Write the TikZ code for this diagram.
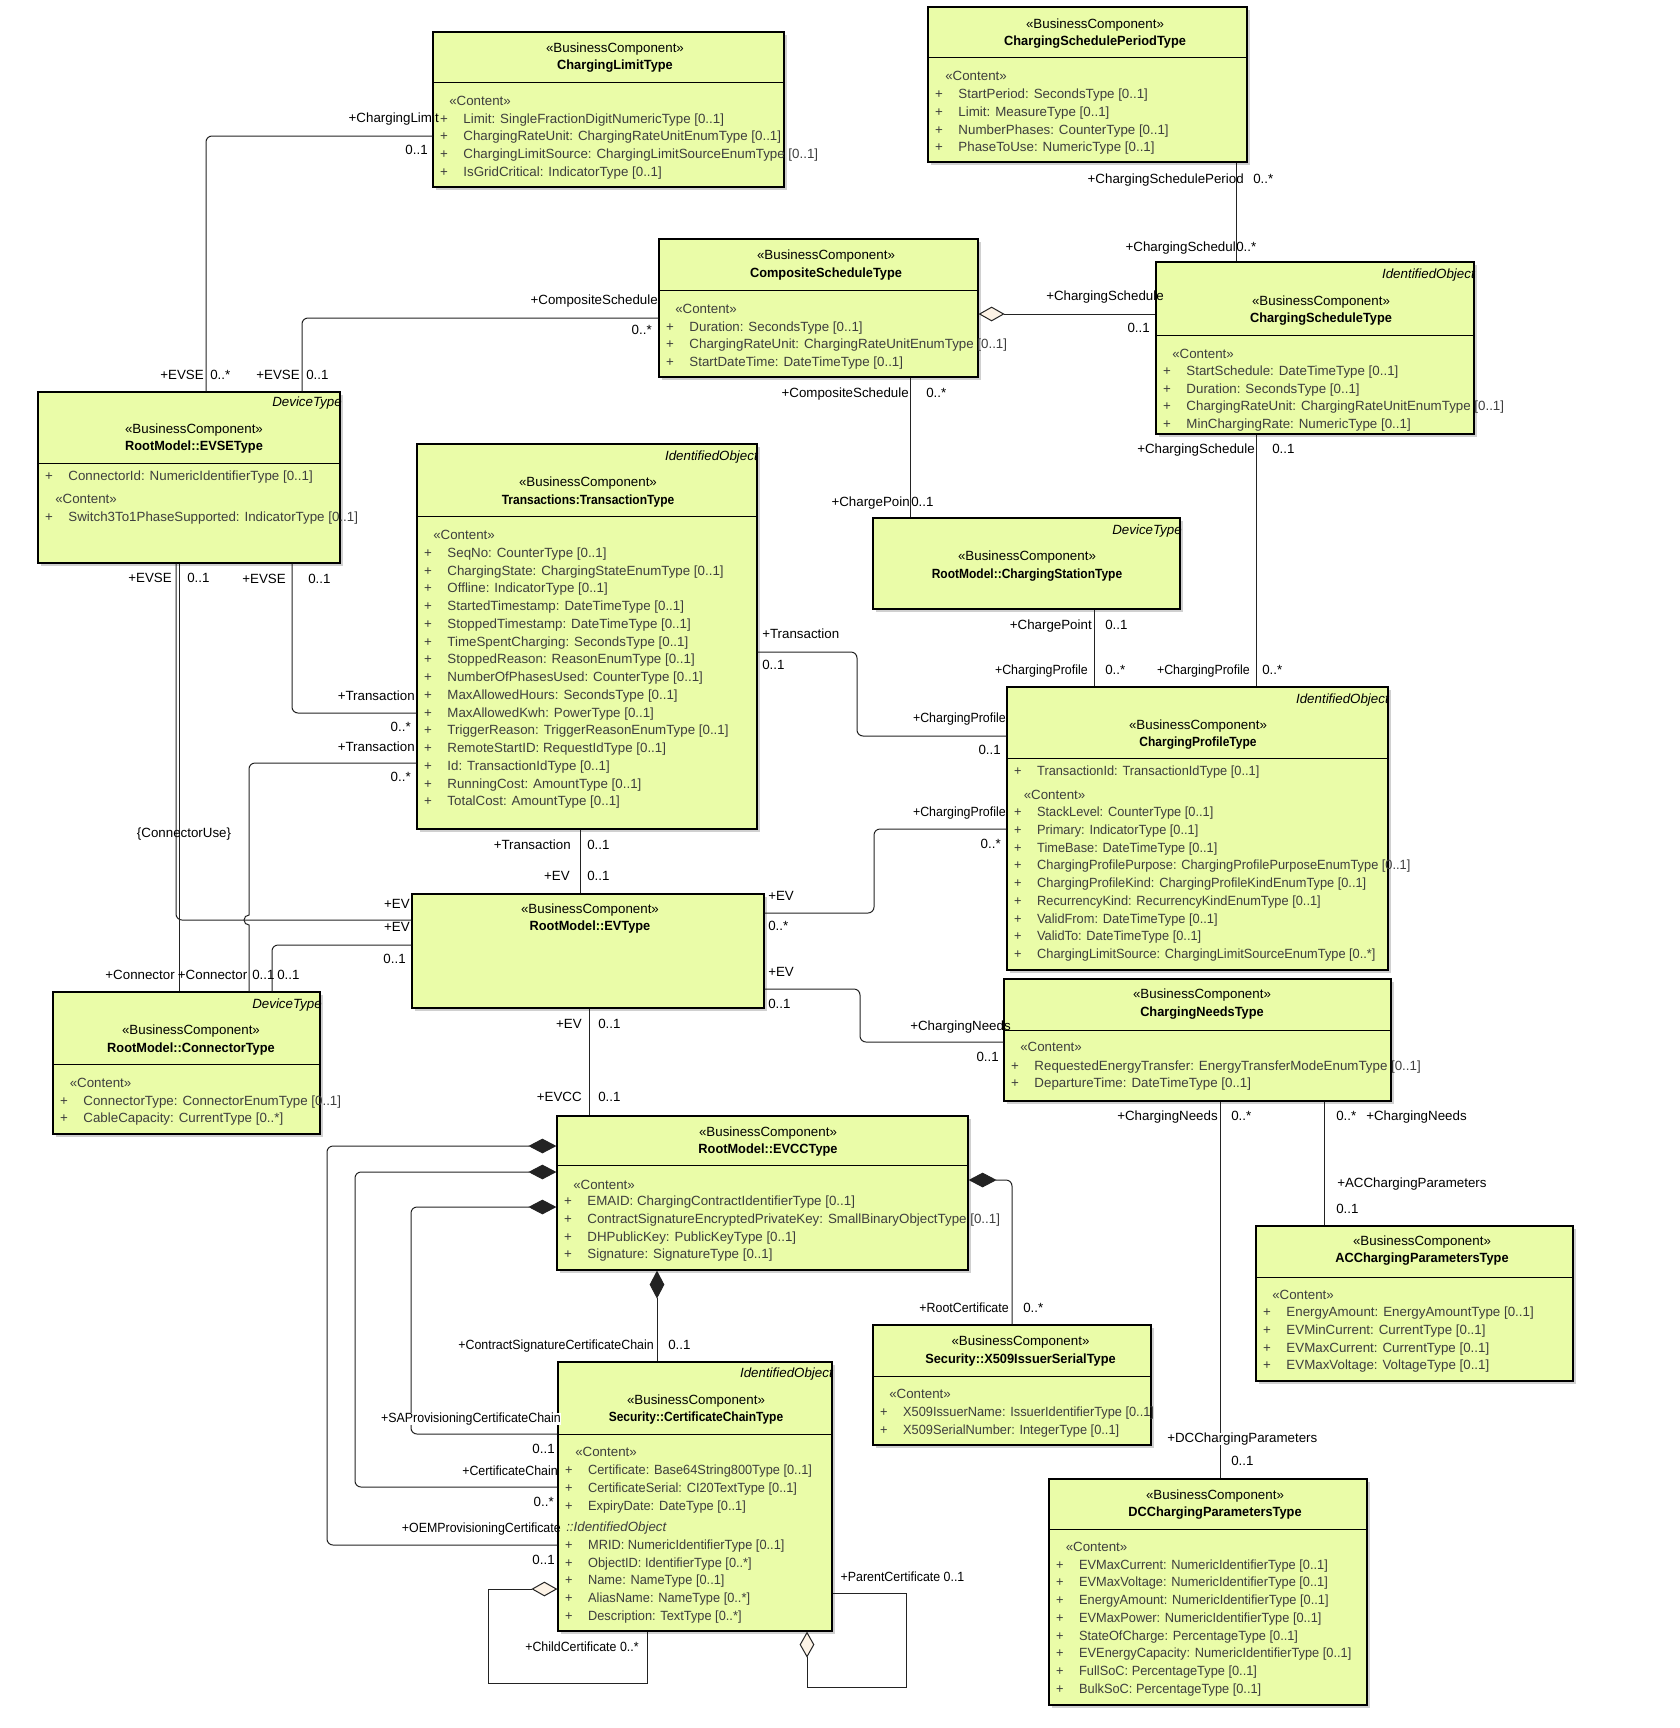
\documentclass[tikz,border=0pt]{standalone}
\usepackage{fontspec}
\setmainfont{Liberation Sans}
\newfontfamily\titlefont[FakeStretch=0.96]{Liberation Sans}
\newfontfamily\narrowfont[FakeStretch=0.9]{Liberation Sans}
\newfontfamily\rowfont[FakeStretch=0.96]{Liberation Sans}
\newfontfamily\condfont[FakeStretch=0.93]{Liberation Sans}
\usepackage{tikz}
\usetikzlibrary{
  arrows.meta,
  fit,
  shadows
}
\definecolor{ClassFill}{RGB}{234,252,168}
\definecolor{AttrGray}{RGB}{62,62,62}
\definecolor{LineGray}{RGB}{35,35,35}
\definecolor{DiamondCream}{RGB}{253,243,230}
\definecolor{ShadowGray}{RGB}{208,208,208}
\tikzset{
  classbox/.style={draw=black,line width=0.9pt,fill=ClassFill,inner sep=0pt,drop shadow={shadow xshift=2.2pt,shadow yshift=-2.2pt,fill=ShadowGray,opacity=1}},
  sepline/.style={draw=black,line width=0.75pt},
  stereo/.style={anchor=base,inner sep=0pt},
  ctitle/.style={anchor=base,inner sep=0pt,font=\titlefont\bfseries},
  ctitlen/.style={anchor=base,inner sep=0pt,font=\narrowfont\bfseries},
  kind/.style={anchor=base east,inner sep=0pt,font=\itshape},
  attr/.style={anchor=base west,inner sep=0pt,text=AttrGray},
  attrn/.style={attr,font=\rowfont},
  assoc/.style={draw=LineGray,line width=0.75pt,rounded corners=4.5pt},
  compos/.style={assoc,{Diamond[length=21pt,width=11pt]}-},
  aggr/.style={assoc,{Diamond[fill=DiamondCream,length=19.5pt,width=11pt]}-},
  re/.style={anchor=base east,inner sep=0pt},
  rw/.style={anchor=base west,inner sep=0pt},
  cond/.style={font=\condfont}
}
\newcommand{\classhead}[5][ctitle]{%
  \node[stereo] (#2-st) at (#3,#4) {«BusinessComponent»};
  \node[#1] (#2-nm) at (#3,#4+17.4) {#5};}
\newcommand{\classrows}[5][attr]{%
  \foreach \attrtext [count=\i] in {#5}
    \node[#1] (#2-a\i) at (#3+6.8,#4+17.75*\i-17.75) {+\hspace{11.7pt}\attrtext};}

\begin{document}
\begin{tikzpicture}[x=0.75pt,y=-0.75pt]
\useasboundingbox (0,0) rectangle (1679,1728);
% class boxes
\node[classbox,fit={(433,32) (784,187)}] (climit) {};
\node[classbox,fit={(928,7) (1247,162)}] (cspt) {};
\node[classbox,fit={(659,239) (978,377)}] (comp) {};
\node[classbox,fit={(1156,262) (1474,434)}] (csched) {};
\node[classbox,fit={(38,392) (340,563)}] (evse) {};
\node[classbox,fit={(417,444) (757,829)}] (trans) {};
\node[classbox,fit={(873,518) (1180,609)}] (cstation) {};
\node[classbox,fit={(1007,687) (1388,970)}] (cprof) {};
\node[classbox,fit={(412,894) (764,1008)}] (ev) {};
\node[classbox,fit={(1004,979) (1391,1101)}] (cneeds) {};
\node[classbox,fit={(53,992) (320,1134)}] (conn) {};
\node[classbox,fit={(557,1116) (968,1270)}] (evcc) {};
\node[classbox,fit={(873,1325) (1151,1445)}] (x509) {};
\node[classbox,fit={(1256,1226) (1573,1381)}] (acp) {};
\node[classbox,fit={(1049,1479) (1367,1705)}] (dcp) {};
\node[classbox,fit={(558,1362) (832,1631)}] (cchain) {};
\foreach \b/\y in {climit/82,cspt/57,comp/290,csched/335,evse/463,trans/516,cprof/758,cneeds/1030,conn/1064,evcc/1165,x509/1376,acp/1277,dcp/1529,cchain/1434}
  \draw[sepline] (\b.west |- 0,\y) -- (\b.east |- 0,\y);

\classhead{climit}{615}{52.3}{ChargingLimitType}
\node[attr] (climit-ct) at (449,105.7) {«Content»};
\classrows{climit}{433}{123}{{Limit: SingleFractionDigitNumericType [0..1]},{ChargingRateUnit: ChargingRateUnitEnumType [0..1]},{ChargingLimitSource: ChargingLimitSourceEnumType [0..1]},{IsGridCritical: IndicatorType [0..1]}}

\classhead{cspt}{1095}{28}{ChargingSchedulePeriodType}
\node[attr] (cspt-ct) at (945,80.7) {«Content»};
\classrows{cspt}{928}{98.5}{{StartPeriod: SecondsType [0..1]},{Limit: MeasureType [0..1]},{NumberPhases: CounterType [0..1]},{PhaseToUse: NumericType [0..1]}}

\classhead{comp}{826}{259.7}{CompositeScheduleType}
\node[attr] (comp-ct) at (675,313) {«Content»};
\classrows{comp}{659}{331}{{Duration: SecondsType [0..1]},{ChargingRateUnit: ChargingRateUnitEnumType [0..1]},{StartDateTime: DateTimeType [0..1]}}

\node[kind] (csched-k) at (1475,278.3) {IdentifiedObject};
\classhead{csched}{1321}{305}{ChargingScheduleType}
\node[attr] (csched-ct) at (1172,358) {«Content»};
\classrows{csched}{1156}{375.3}{{StartSchedule: DateTimeType [0..1]},{Duration: SecondsType [0..1]},{ChargingRateUnit: ChargingRateUnitEnumType [0..1]},{MinChargingRate: NumericType [0..1]}}

\node[kind] (evse-k) at (342,406.7) {DeviceType};
\classhead{evse}{194}{433}{RootModel::EVSEType}
\classrows{evse-id}{38}{480.7}{{ConnectorId: NumericIdentifierType [0..1]}}
\node[attr] (evse-ct) at (55,503.3) {«Content»};
\classrows{evse}{38}{521.3}{{Switch3To1PhaseSupported: IndicatorType [0..1]}}

\node[kind] (trans-k) at (758,460) {IdentifiedObject};
\classhead[ctitlen]{trans}{588}{486.7}{Transactions:TransactionType}
\node[attr] (trans-ct) at (433,539.7) {«Content»};
\classrows{trans}{417}{557.3}{{SeqNo: CounterType [0..1]},{ChargingState: ChargingStateEnumType [0..1]},{Offline: IndicatorType [0..1]},{StartedTimestamp: DateTimeType [0..1]},{StoppedTimestamp: DateTimeType [0..1]},{TimeSpentCharging: SecondsType [0..1]},{StoppedReason: ReasonEnumType [0..1]},{NumberOfPhasesUsed: CounterType [0..1]},{MaxAllowedHours: SecondsType [0..1]},{MaxAllowedKwh: PowerType [0..1]},{TriggerReason: TriggerReasonEnumType [0..1]},{RemoteStartID: RequestIdType [0..1]},{Id: TransactionIdType [0..1]},{RunningCost: AmountType [0..1]},{TotalCost: AmountType [0..1]}}

\node[kind] (cstation-k) at (1182,534.7) {DeviceType};
\classhead[ctitlen]{cstation}{1027}{560.7}{RootModel::ChargingStationType}

\node[kind] (cprof-k) at (1389,703) {IdentifiedObject};
\classhead[ctitlen]{cprof}{1198}{729}{ChargingProfileType}
\classrows[attrn]{cprof-id}{1007}{775.3}{{TransactionId: TransactionIdType [0..1]}}
\node[attr] (cprof-ct) at (1023.5,799.7) {«Content»};
\classrows[attrn]{cprof}{1007}{816.7}{{StackLevel: CounterType [0..1]},{Primary: IndicatorType [0..1]},{TimeBase: DateTimeType [0..1]},{ChargingProfilePurpose: ChargingProfilePurposeEnumType [0..1]},{ChargingProfileKind: ChargingProfileKindEnumType [0..1]},{RecurrencyKind: RecurrencyKindEnumType [0..1]},{ValidFrom: DateTimeType [0..1]},{ValidTo: DateTimeType [0..1]},{ChargingLimitSource: ChargingLimitSourceEnumType [0..*]}}

\classhead{ev}{590}{913.3}{RootModel::EVType}

\classhead{cneeds}{1202}{998.7}{ChargingNeedsType}
\node[attr] (cneeds-ct) at (1020,1051.7) {«Content»};
\classrows{cneeds}{1004}{1070}{{RequestedEnergyTransfer: EnergyTransferModeEnumType [0..1]},{DepartureTime: DateTimeType [0..1]}}

\node[kind] (conn-k) at (322,1008.3) {DeviceType};
\classhead{conn}{191}{1034.7}{RootModel::ConnectorType}
\node[attr] (conn-ct) at (69.5,1087.3) {«Content»};
\classrows{conn}{53}{1105}{{ConnectorType: ConnectorEnumType [0..1]},{CableCapacity: CurrentType [0..*]}}

\classhead{evcc}{768}{1136.3}{RootModel::EVCCType}
\node[attr] (evcc-ct) at (573,1189) {«Content»};
\classrows{evcc}{557}{1205.7}{{EMAID: ChargingContractIdentifierType [0..1]},{ContractSignatureEncryptedPrivateKey: SmallBinaryObjectType [0..1]},{DHPublicKey: PublicKeyType [0..1]},{Signature: SignatureType [0..1]}}

\classhead{x509}{1020.5}{1345.7}{Security::X509IssuerSerialType}
\node[attr] (x509-ct) at (889,1398.3) {«Content»};
\classrows[attrn]{x509}{873}{1416.3}{{X509IssuerName: IssuerIdentifierType [0..1]},{X509SerialNumber: IntegerType [0..1]}}

\classhead{acp}{1422}{1245}{ACChargingParametersType}
\node[attr] (acp-ct) at (1272,1299.7) {«Content»};
\classrows{acp}{1256}{1316.7}{{EnergyAmount: EnergyAmountType [0..1]},{EVMinCurrent: CurrentType [0..1]},{EVMaxCurrent: CurrentType [0..1]},{EVMaxVoltage: VoltageType [0..1]}}

\classhead{dcp}{1215}{1499}{DCChargingParametersType}
\node[attr] (dcp-ct) at (1065.5,1551.3) {«Content»};
\classrows[attrn]{dcp}{1049}{1569}{{EVMaxCurrent: NumericIdentifierType [0..1]},{EVMaxVoltage: NumericIdentifierType [0..1]},{EnergyAmount: NumericIdentifierType [0..1]},{EVMaxPower: NumericIdentifierType [0..1]},{StateOfCharge: PercentageType [0..1]},{EVEnergyCapacity: NumericIdentifierType [0..1]},{FullSoC: PercentageType [0..1]},{BulkSoC: PercentageType [0..1]}}

\node[kind] (cchain-k) at (833,1377.3) {IdentifiedObject};
\classhead[ctitlen]{cchain}{696}{1404}{Security::CertificateChainType}
\node[attr] (cchain-ct) at (575,1456.7) {«Content»};
\classrows[attrn]{cchain}{558}{1474.7}{{Certificate: Base64String800Type [0..1]},{CertificateSerial: CI20TextType [0..1]},{ExpiryDate: DateType [0..1]}}
\node[attr,font=\itshape] (cchain-io) at (566,1531.7) {::IdentifiedObject};
\classrows[attrn]{cchain-io}{558}{1549.3}{{MRID: NumericIdentifierType [0..1]},{ObjectID: IdentifierType [0..*]},{Name: NameType [0..1]},{AliasName: NameType [0..*]},{Description: TextType [0..*]}}

% connectors
\draw[assoc] (climit.west |- 0,136) -| (evse.north -| 206,0);
\draw[assoc] (comp.west |- 0,318) -| (evse.north -| 302,0);
\draw[assoc] (comp.south -| 910,0) -- (cstation.north -| 910,0);
\draw[assoc] (cspt.south -| 1236,0) -- (csched.north -| 1236,0);
\draw[aggr] (comp.east |- 0,314) -- (csched.west |- 0,314);
\draw[assoc] (csched.south -| 1256,0) -- (cprof.north -| 1256,0);
\draw[assoc] (cstation.south -| 1094,0) -- (cprof.north -| 1094,0);
\draw[assoc] (trans.east |- 0,652) -| (857,700) |- (cprof.west |- 0,736);
\draw[assoc] (ev.east |- 0,913) -| (874,870) |- (cprof.west |- 0,829);
\draw[assoc] (ev.east |- 0,989) -| (860,1020) |- (cneeds.west |- 0,1042);
\draw[assoc] (trans.south -| 580,0) -- (ev.north -| 580,0);
\draw[assoc] (ev.south -| 589,0) -- (evcc.north -| 589,0);
\draw[assoc] (evse.south -| 292,0) |- (trans.west |- 0,713);
\draw[assoc] (evse.south -| 176,0) |- (ev.west |- 0,920);
\draw[assoc] (evse.south -| 179,0) -- (conn.north -| 179,0);
\draw[assoc] (trans.west |- 0,763) -| (249,880) [sharp corners] -- (249,915)
  arc[start angle=270,end angle=90,radius=5] -- (conn.north -| 249,0);
\draw[assoc] (ev.west |- 0,945) -| (conn.north -| 272,0);
\draw[compos] (evcc.east |- 0,1180) -| (x509.north -| 1012,0);
\draw[compos] (evcc.south -| 657,0) -- (cchain.north -| 657,0);
\draw[compos] (evcc.west |- 0,1146) -| (327,1400) |- (cchain.west |- 0,1545);
\draw[compos] (evcc.west |- 0,1172) -| (355,1400) |- (cchain.west |- 0,1487);
\draw[compos] (evcc.west |- 0,1207) -| (411,1400) |- (cchain.west |- 0,1434);
\draw[aggr,sharp corners] (cchain.west |- 0,1589) -| (488.5,1683) -| (cchain.south -| 647,0);
\draw[aggr,sharp corners] (cchain.south -| 807,0) |- (906,1687) |- (cchain.east |- 0,1593);
\draw[assoc] (cneeds.south -| 1220,0) -- (dcp.north -| 1220,0);
\draw[assoc] (cneeds.south -| 1324,0) -- (acp.north -| 1324,0);

% role names and multiplicities
\node[re] (r-cl1) at (439,122) {+ChargingLimit};
\node[re] (m-cl1) at (428,154) {0..1};
\node[re] (r-cl2) at (204,379) {+EVSE};
\node[rw] (m-cl2) at (210,379) {0..*};
\node[re] (r-cs1) at (658,304) {+CompositeSchedule};
\node[re] (m-cs1) at (652,334.5) {0..*};
\node[re] (r-cs2) at (300,379) {+EVSE};
\node[rw] (m-cs2) at (306,379) {0..1};
\node[re] (r-st1) at (909,397.3) {+CompositeSchedule};
\node[rw] (m-st1) at (926,397.3) {0..*};
\node[re] (r-st2) at (910,506.4) {+ChargePoin};
\node[rw] (m-st2) at (911,506.4) {0..1};
\node[re] (r-pe1) at (1244,183) {+ChargingSchedulePeriod};
\node[rw] (m-pe1) at (1253,183) {0..*};
\node[re] (r-pe2) at (1236,251.3) {+ChargingSchedul};
\node[rw] (m-pe2) at (1236,251.3) {0..*};
\node[re] (r-ag1) at (1164,300.4) {+ChargingSchedule};
\node[re] (m-ag1) at (1150,332) {0..1};
\node[re] (r-sp1) at (1255,453.5) {+ChargingSchedule};
\node[rw] (m-sp1) at (1272,453.5) {0..1};
\node[re,cond] (r-sp2) at (1250,674.5) {+ChargingProfile};
\node[rw] (m-sp2) at (1262,674.5) {0..*};
\node[re] (r-sn1) at (1092,629.7) {+ChargePoint};
\node[rw] (m-sn1) at (1105,629.7) {0..1};
\node[re,cond] (r-sn2) at (1088,674) {+ChargingProfile};
\node[rw] (m-sn2) at (1105,674) {0..*};
\node[rw] (r-tp1) at (762,638.6) {+Transaction};
\node[rw] (m-tp1) at (762,669.5) {0..1};
\node[re,cond] (r-tp2) at (1006,722.3) {+ChargingProfile};
\node[re] (m-tp2) at (1001,754) {0..1};
\node[rw] (r-ep1) at (768,900.3) {+EV};
\node[rw] (m-ep1) at (768,930.7) {0..*};
\node[re,cond] (r-ep2) at (1006,816) {+ChargingProfile};
\node[re] (m-ep2) at (1001,848) {0..*};
\node[rw] (r-en1) at (768,976.3) {+EV};
\node[rw] (m-en1) at (768,1008) {0..1};
\node[re] (r-en2) at (1011,1030.7) {+ChargingNeeds};
\node[re] (m-en2) at (999,1061.3) {0..1};
\node[re] (r-te1) at (571,849) {+Transaction};
\node[rw] (m-te1) at (587,849) {0..1};
\node[re] (r-te2) at (570,880.7) {+EV};
\node[rw] (m-te2) at (587,880.7) {0..1};
\node[re] (r-ec1) at (582,1028) {+EV};
\node[rw] (m-ec1) at (598,1028) {0..1};
\node[re] (r-ec2) at (582,1101.7) {+EVCC};
\node[rw] (m-ec2) at (598,1101.7) {0..1};
\node[re] (r-vt1) at (286,583) {+EVSE};
\node[rw] (m-vt1) at (308,583) {0..1};
\node[re] (r-vt2) at (415,700.7) {+Transaction};
\node[re] (m-vt2) at (411,731.3) {0..*};
\node[re] (r-tc1) at (415,751.3) {+Transaction};
\node[re] (m-tc1) at (411,781.7) {0..*};
\node[re] (r-tc2) at (247.5,979.7) {+Connector};
\node[rw] (m-tc2) at (252,979.7) {0..1};
\node[re] (r-ve1) at (172,582) {+EVSE};
\node[rw] (m-ve1) at (187,582) {0..1};
\node[re] (r-ve2) at (410,908) {+EV};
\node[re] (r-vc2) at (175,979.7) {+Connector};
\node[re] (r-cn1) at (410,931.3) {+EV};
\node[re] (m-cn1) at (406,963) {0..1};
\node[rw] (m-cn2) at (277,979.7) {0..1};
\node[anchor=base,inner sep=0pt] (cuse) at (184,837.3) {\{ConnectorUse\}};
\node[re,cond] (r-rc) at (1009,1312.3) {+RootCertificate};
\node[rw] (m-rc) at (1023,1312.3) {0..*};
\node[re,cond] (r-cc) at (654,1349) {+ContractSignatureCertificateChain};
\node[rw] (m-cc) at (668,1349) {0..1};
\node[re,cond] (r-oem) at (561,1532.3) {+OEMProvisioningCertificate};
\node[re] (m-oem) at (555,1564) {0..1};
\node[re,cond] (r-ch) at (558,1475.3) {+CertificateChain};
\node[re] (m-ch) at (554,1506.3) {0..*};
\node[re,cond,fill=white] (r-sa) at (561,1422.3) {+SAProvisioningCertificateChain};
\node[re] (m-sa) at (555,1453) {0..1};
\node[rw,cond] (r-child) at (525,1651.3) {+ChildCertificate 0..*};
\node[rw,cond] (r-parent) at (840.4,1581.3) {+ParentCertificate 0..1};
\node[re] (r-nd1) at (1218,1120.7) {+ChargingNeeds};
\node[rw] (m-nd1) at (1231,1120.7) {0..*};
\node[rw,fill=white] (r-nd2) at (1167,1442.3) {+DCChargingParameters};
\node[rw] (m-nd2) at (1231,1465) {0..1};
\node[rw] (m-na1) at (1336,1120.7) {0..*};
\node[rw] (r-na1) at (1366,1120.7) {+ChargingNeeds};
\node[rw] (r-na2) at (1337,1187) {+ACChargingParameters};
\node[rw] (m-na2) at (1336,1213) {0..1};
\end{tikzpicture}
\end{document}
